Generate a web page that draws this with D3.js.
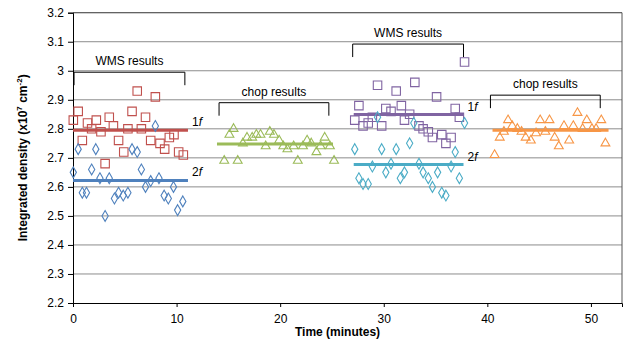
<!DOCTYPE html>
<html>
<head>
<meta charset="utf-8">
<script src="https://cdn.jsdelivr.net/npm/d3@7"></script>
<style>
  body { margin: 0; background: #fff; }
  text { font-family: "Liberation Sans", Arial, sans-serif; }
</style>
</head>
<body>
<div id="chart"></div>
<script>
// WMS / chop density data (time in minutes, density x10^7 cm^-2)

// WMS run 1, 1f (red squares)
const wms1Time1f = [0.03, 0.5, 0.9, 1.4, 1.8, 2.25, 2.7, 3.1, 3.5, 3.9, 4.4, 4.9, 5.3, 5.7, 6.2, 6.6, 7.0, 7.5, 7.95, 8.4, 8.85, 9.3, 9.75, 10.2, 10.65];
const wms1Val1f  = [2.83, 2.86, 2.76, 2.82, 2.80, 2.83, 2.79, 2.68, 2.84, 2.81, 2.76, 2.72, 2.80, 2.86, 2.93, 2.80, 2.84, 2.76, 2.91, 2.75, 2.73, 2.77, 2.78, 2.72, 2.71];

// WMS run 1, 2f (blue diamonds)
const wms1Time2f = [0.03, 0.5, 0.9, 1.3, 1.8, 2.2, 2.6, 3.1, 3.5, 4.0, 4.4, 4.85, 5.3, 5.7, 6.2, 6.6, 7.0, 7.5, 7.95, 8.3, 8.8, 9.2, 9.7, 10.1, 10.6];
const wms1Val2f  = [2.65, 2.73, 2.58, 2.58, 2.66, 2.73, 2.63, 2.50, 2.63, 2.56, 2.58, 2.57, 2.58, 2.73, 2.72, 2.66, 2.60, 2.62, 2.81, 2.63, 2.57, 2.56, 2.60, 2.52, 2.55];

// chop run 1 (green triangles)
const chop1Time = [14.6, 15.1, 15.5, 15.9, 16.4, 16.8, 17.3, 17.7, 18.1, 18.6, 19.0, 19.4, 19.9, 20.3, 20.7, 21.3, 21.7, 22.2, 22.6, 23.0, 23.5, 23.9, 24.3, 24.8, 25.2];
const chop1Val  = [2.69, 2.78, 2.80, 2.69, 2.75, 2.77, 2.77, 2.78, 2.78, 2.74, 2.79, 2.78, 2.76, 2.74, 2.73, 2.74, 2.69, 2.74, 2.76, 2.75, 2.72, 2.74, 2.77, 2.74, 2.69];

// WMS run 2, 1f (purple squares)
const wms2Time1f = [27.2, 27.6, 28.0, 28.5, 28.9, 29.4, 29.8, 30.2, 30.7, 31.2, 31.7, 32.0, 32.5, 33.0, 33.4, 33.8, 34.3, 34.7, 35.1, 35.6, 36.0, 36.5, 36.9, 37.3, 37.8];
const wms2Val1f  = [2.83, 2.88, 2.81, 2.82, 2.84, 2.95, 2.81, 2.87, 2.86, 2.93, 2.88, 2.83, 2.85, 2.96, 2.81, 2.80, 2.79, 2.77, 2.91, 2.78, 2.75, 2.77, 2.87, 2.84, 3.03];

// WMS run 2, 2f (teal diamonds)
const wms2Time2f = [27.2, 27.6, 28.0, 28.5, 28.9, 29.4, 29.8, 30.2, 30.7, 31.2, 31.6, 32.0, 32.5, 32.9, 33.4, 33.8, 34.3, 34.7, 35.2, 35.6, 36.0, 36.5, 36.9, 37.3, 37.8];
const wms2Val2f  = [2.73, 2.63, 2.61, 2.61, 2.67, 2.84, 2.73, 2.65, 2.68, 2.73, 2.63, 2.65, 2.75, 2.82, 2.68, 2.65, 2.63, 2.60, 2.65, 2.58, 2.57, 2.67, 2.72, 2.63, 2.82];

// chop run 2 (orange triangles)
const chop2Time = [40.7, 41.2, 41.6, 42.0, 42.4, 42.9, 43.3, 43.7, 44.2, 44.7, 45.1, 45.6, 46.0, 46.5, 46.9, 47.4, 47.9, 48.3, 48.7, 49.2, 49.6, 50.1, 50.5, 51.0, 51.4];
const chop2Val  = [2.71, 2.77, 2.79, 2.83, 2.81, 2.80, 2.79, 2.77, 2.76, 2.785, 2.83, 2.79, 2.83, 2.77, 2.74, 2.81, 2.76, 2.81, 2.855, 2.80, 2.83, 2.80, 2.80, 2.83, 2.75];

// mean lines
const meanStart = [0, 0, 13.9, 27.1, 27.1, 40.5];
const meanEnd   = [11.1, 11.1, 25.1, 37.7, 37.7, 51.7];
const meanValue = [2.795, 2.622, 2.748, 2.849, 2.677, 2.795];
const meanLabel = ["1f", "2f", "", "1f", "2f", ""];

// brackets
const bracketStart = [0.1, 14.1, 27.0, 40.3];
const bracketEnd   = [10.8, 24.7, 37.7, 50.9];
const bracketTop   = [2.995, 2.89, 3.092, 2.916];
const bracketText  = ["WMS results", "chop results", "WMS results", "chop results"];

const yTicks = [2.2, 2.3, 2.4, 2.5, 2.6, 2.7, 2.8, 2.9, 3.0, 3.1, 3.2];
const xTicks = [0, 10, 20, 30, 40, 50];

const colors = ["#C0504D", "#4F81BD", "#9BBB59", "#8064A2", "#4BACC6", "#F79646"];

const width = 624, height = 341;
const x = d3.scaleLinear().domain([0, 53]).range([73, 622]);
const y = d3.scaleLinear().domain([2.2, 3.2]).range([303, 12.7]);

const svg = d3.select("#chart").append("svg")
    .attr("width", width)
    .attr("height", height);

// gridlines
svg.append("g")
    .selectAll("line")
    .data(yTicks.slice(1))
    .enter().append("line")
    .attr("x1", x(0)).attr("x2", x(53))
    .attr("y1", d => y(d)).attr("y2", d => y(d))
    .attr("stroke", "#8c8c8c")
    .attr("stroke-width", 1);

// plot border (top / right)
svg.append("path")
    .attr("d", `M${x(0)},${y(3.2)}H${x(53)}V${y(2.2)}`)
    .attr("fill", "none")
    .attr("stroke", "#555")
    .attr("stroke-width", 1);

// axes
const yAxis = d3.axisLeft(y).tickValues(yTicks).tickSize(5).tickPadding(4)
    .tickFormat(d => d3.format("")(+d.toFixed(1)));
const gy = svg.append("g").attr("transform", `translate(${x(0)},0)`).call(yAxis);

const xAxis = d3.axisBottom(x).tickValues(xTicks).tickSize(4).tickPadding(7);
const gx = svg.append("g").attr("transform", `translate(0,${y(2.2)})`).call(xAxis);

[gx, gy].forEach(g => {
  g.select(".domain").attr("stroke", "#000");
  g.selectAll(".tick line").attr("stroke", "#000");
  g.selectAll("text").attr("font-size", 12).attr("fill", "#000")
    .attr("font-family", "'Liberation Sans', Arial, sans-serif");
});

// axis titles
svg.append("text")
    .attr("x", (x(0) + x(53)) / 2 - 10)
    .attr("y", 336)
    .attr("text-anchor", "middle")
    .attr("font-size", 12)
    .attr("font-weight", "bold")
    .text("Time (minutes)");

const yt = svg.append("text")
    .attr("transform", `translate(27,${(y(2.2) + y(3.2)) / 2}) rotate(-90)`)
    .attr("text-anchor", "middle")
    .attr("font-size", 12)
    .attr("font-weight", "bold");
yt.append("tspan").text("Integrated density (x10");
yt.append("tspan").attr("font-size", 8).attr("dy", -5).text("7");
yt.append("tspan").attr("dy", 5).text(" cm");
yt.append("tspan").attr("font-size", 8).attr("dy", -5).text("-2");
yt.append("tspan").attr("dy", 5).text(")");

// mean lines
meanValue.forEach((v, i) => {
  svg.append("line")
      .attr("x1", x(meanStart[i])).attr("x2", x(meanEnd[i]))
      .attr("y1", y(v)).attr("y2", y(v))
      .attr("stroke", colors[i])
      .attr("stroke-width", 3);
  if (meanLabel[i]) {
    const t = svg.append("text")
        .attr("x", x(meanEnd[i]) + 4)
        .attr("y", y(v) - 4)
        .attr("font-size", 12)
        .attr("font-family", "'Liberation Serif', serif")
        .attr("fill", "#000");
    t.append("tspan").text(meanLabel[i][0]);
    t.append("tspan").attr("font-style", "italic").text(meanLabel[i].slice(1));
  }
});

// markers
const sqSym = d3.symbol().type(d3.symbolSquare).size(72);
const diaSym = d3.symbol().type(d3.symbolDiamond).size(34);
const triSym = d3.symbol().type(d3.symbolTriangle).size(34);

const series = [
  [wms1Time1f, wms1Val1f, sqSym, colors[0]],
  [wms1Time2f, wms1Val2f, diaSym, colors[1]],
  [chop1Time, chop1Val, triSym, colors[2]],
  [wms2Time1f, wms2Val1f, sqSym, colors[3]],
  [wms2Time2f, wms2Val2f, diaSym, colors[4]],
  [chop2Time, chop2Val, triSym, colors[5]]
];

series.forEach(([ts, vs, sym, c]) => {
  svg.append("g")
      .selectAll("path")
      .data(ts.map((t, i) => [t, vs[i]]))
      .enter().append("path")
      .attr("d", sym)
      .attr("transform", d => `translate(${x(d[0])},${y(d[1])})`)
      .attr("fill", "none")
      .attr("stroke", c)
      .attr("stroke-width", 1.1);
});

// brackets
bracketText.forEach((label, i) => {
  const x0 = x(bracketStart[i]), x1 = x(bracketEnd[i]), yt0 = y(bracketTop[i]);
  svg.append("path")
      .attr("d", `M${x0},${yt0 + 13}V${yt0}H${x1}V${yt0 + 13}`)
      .attr("fill", "none")
      .attr("stroke", "#000")
      .attr("stroke-width", 1);
  svg.append("text")
      .attr("x", (x0 + x1) / 2)
      .attr("y", yt0 - 7)
      .attr("text-anchor", "middle")
      .attr("font-size", 12)
      .attr("fill", "#000")
      .text(label);
});
</script>
</body>
</html>
